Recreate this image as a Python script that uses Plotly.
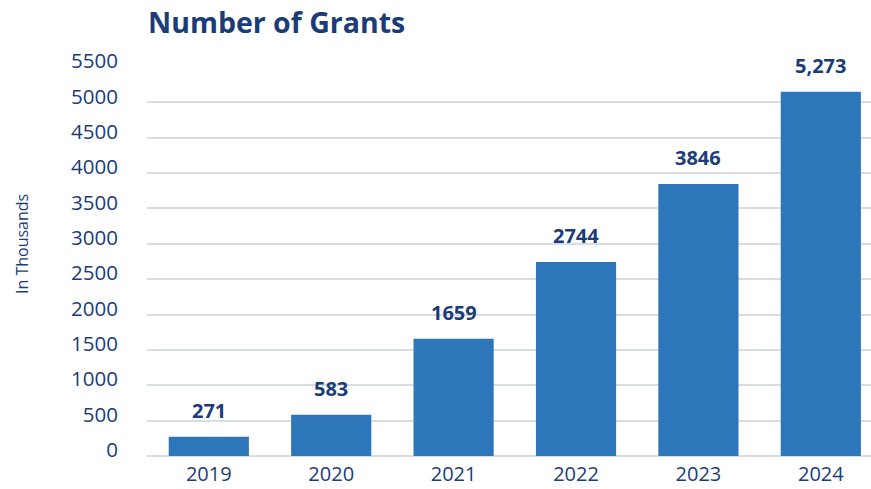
import plotly.graph_objects as go

years = ["2019", "2020", "2021", "2022", "2023", "2024"]
bar_values = [271, 583, 1659, 2744, 3846, 5150]
bar_labels = ["271", "583", "1659", "2744", "3846", "5,273"]
y_ticks = [0, 500, 1000, 1500, 2000, 2500, 3000, 3500, 4000, 4500, 5000, 5500]

NAVY = "#1B3C78"
BAR = "#2E76BA"
GRID = "#D6DEE4"
FONT = "Open Sans"

fig = go.Figure()
fig.add_trace(go.Bar(
    x=years, y=bar_values, marker=dict(color=BAR, line=dict(width=0)),
    width=0.655, hoverinfo="skip",
))
for i, (v, lab) in enumerate(zip(bar_values, bar_labels)):
    fig.add_annotation(x=i, y=v, xref="x", yref="y", text="<b>" + lab + "</b>", showarrow=False,
                       yanchor="bottom", yshift=11,
                       font=dict(family=FONT, size=20, color=NAVY))

# y-axis title placed as a rotated annotation
fig.add_annotation(x=(22 - 147) / 724, y=(456 - 244) / 389, xref="paper", yref="paper",
                   text="In Thousands", textangle=-90, showarrow=False,
                   xanchor="center", yanchor="middle",
                   font=dict(family=FONT, size=16, color=NAVY))

fig.update_layout(
    width=871, height=489,
    margin=dict(l=147, r=0, t=67, b=33, autoexpand=False),
    paper_bgcolor="white", plot_bgcolor="white",
    showlegend=False,
    title=dict(text="<b>Number of Grants</b>", x=148/871, xref="container", xanchor="left",
               y=1 - 23/489, yref="container", yanchor="middle",
               font=dict(family=FONT, size=28.5, color=NAVY)),
    xaxis=dict(type="category", range=[-0.505, 5.41], showgrid=False, showline=False, zeroline=False,
               tickfont=dict(family=FONT, size=20, color=NAVY), ticklabelstandoff=4),
    yaxis=dict(range=[0, 5500], tickvals=y_ticks, showgrid=True, gridcolor=GRID, gridwidth=2,
               zeroline=True, zerolinecolor=GRID, zerolinewidth=2, showline=False,
               tickfont=dict(family=FONT, size=20.5, color=NAVY), ticklabelstandoff=28,
               ticklabelshift=-6),
)
fig.write_html("out.html", config={"displayModeBar": False},
               post_script="document.body.style.margin='0';")
